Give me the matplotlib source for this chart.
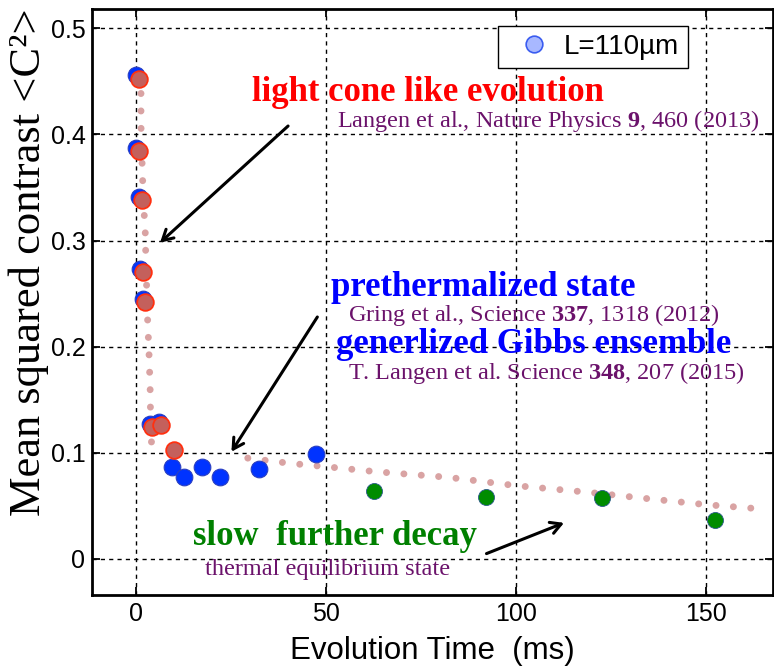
import numpy as np
import matplotlib.pyplot as plt
from matplotlib.lines import Line2D

plt.rcParams['font.family'] = 'Liberation Sans'
plt.rcParams['mathtext.fontset'] = 'custom'
plt.rcParams['mathtext.rm'] = 'Liberation Serif'
plt.rcParams['mathtext.bf'] = 'Liberation Serif:bold'

# L=110um measurements (ms, <C^2>)
blue_t = [0.1, 0.2, 0.8, 1.2, 1.8, 3.7, 6.2, 9.5, 12.7, 17.5, 22.3, 32.4, 47.5]
blue_c = [0.456, 0.387, 0.341, 0.273, 0.245, 0.127, 0.129, 0.087, 0.077, 0.087, 0.077, 0.085, 0.099]

# early-time points (light cone regime)
red_t = [0.9, 1.0, 1.6, 2.0, 2.5, 4.2, 6.6, 10.1]
red_c = [0.452, 0.384, 0.338, 0.270, 0.242, 0.124, 0.126, 0.103]

# late-time points (slow decay)
green_t = [62.6, 92.2, 122.6, 152.3]
green_c = [0.064, 0.058, 0.057, 0.037]

# model curves, early drop and late tail
fit_early_t = [1.0, 1.4, 1.4, 1.8, 2.2, 2.5, 2.7, 3.1, 3.5, 3.8, 4.0, 4.3]
fit_early_c = [0.455, 0.441, 0.409, 0.360, 0.327, 0.311, 0.279, 0.229, 0.195,
               0.162, 0.115, 0.106]
fit_late_t = [29.5, 31.6, 40.8, 49.8, 63.8, 82.0, 100.2, 118.5, 136.8, 150.5, 165.0]
fit_late_c = [0.095, 0.094, 0.090, 0.087, 0.082, 0.077, 0.069, 0.063, 0.056, 0.051, 0.047]

xticks = [0, 50, 100, 150]
yticks = [0, 0.1, 0.2, 0.3, 0.4, 0.5]

fig = plt.figure(figsize=(7.74, 6.68), dpi=100)
ax = fig.add_axes([0.1193, 0.1093, 0.879, 0.8768])

dots = dict(color='#d9a3a3', lw=5, linestyle=(0, (0.01, 2.5)),
            dash_capstyle='round', zorder=2)
ax.plot(fit_early_t, fit_early_c, **dots)
ax.plot(fit_late_t, fit_late_c, **dots)
ax.plot(blue_t, blue_c, 'o', ms=12, mfc='#0033ff', mec='#2a3fc0', mew=0.8, zorder=3)
ax.plot(green_t, green_c, 'o', ms=11.5, mfc='#008c00', mec='#2a5a8a', mew=0.6, zorder=3)
ax.plot(red_t, red_c, 'o', ms=12, mfc='#c4605c', mec='#ff3010', mew=1.3, zorder=4)

ax.set_xlim(-11.4, 167.6)
ax.set_ylim(-0.034, 0.518)
ax.set_xticks(xticks)
ax.set_yticks(yticks)
ax.set_xticklabels([str(v) for v in xticks])
ax.set_yticklabels(['0', '0.1', '0.2', '0.3', '0.4', '0.5'])
ax.tick_params(direction='in', length=6, width=1.3, labelsize=18, pad=5,
               top=True, right=True)
for s in ax.spines.values():
    s.set_linewidth(2)
ax.set_axisbelow(True)
ax.grid(True, color='black', lw=1.0, linestyle=(0, (3, 3)))

ax.set_xlabel('Evolution Time  (ms)', fontsize=22.5, labelpad=7)
ax.set_ylabel('Mean squared contrast <C²>', family='Liberation Serif',
              fontsize=32, va='center')
ax.yaxis.set_label_coords(-0.094, 0.569)

handle = Line2D([], [], marker='o', ls='', ms=12, mfc='#a8b8ff', mec='#3a5cf0', mew=1.2)
leg = ax.legend([handle], ['L=110µm'], loc='upper left', bbox_to_anchor=(0.5956, 0.972),
                borderaxespad=0, fontsize=20, fancybox=False, framealpha=1,
                edgecolor='black', handletextpad=0.1, borderpad=0.3, handlelength=2.0)
leg.get_frame().set_linewidth(1.0)

serif = 'Liberation Serif'
purple = '#6b126b'

ax.text(30.6, 0.432, 'light cone like evolution', color='#ff0000', family=serif,
        weight='bold', fontsize=25, va='baseline')
ax.text(53.0, 0.407, r'Langen et al., Nature Physics $\mathbf{9}$, 460 (2013)',
        color=purple, family=serif, fontsize=17.5, va='baseline')
ax.text(51.5, 0.248, 'prethermalized state', color='#0000ff', family=serif,
        weight='bold', fontsize=25, va='baseline')
ax.text(55.8, 0.2245, r'Gring et al., Science $\mathbf{337}$, 1318 (2012)',
        color=purple, family=serif, fontsize=17.5, va='baseline')
ax.text(52.8, 0.194, 'generlized Gibbs ensemble', color='#0000ff', family=serif,
        weight='bold', fontsize=25, va='baseline')
ax.text(55.8, 0.170, r'T. Langen et al. Science $\mathbf{348}$, 207 (2015)',
        color=purple, family=serif, fontsize=17.5, va='baseline')
ax.text(15.0, 0.013, 'slow  further decay', color='#008000', family=serif,
        weight='bold', fontsize=25, va='baseline')
ax.text(18.2, -0.015, 'thermal equilibrium state', color=purple, family=serif,
        fontsize=17.5, va='baseline')

arrow = dict(arrowstyle='->,head_length=0.75,head_width=0.42', color='black', lw=2.2,
             shrinkA=0, shrinkB=0)
ax.annotate('', xy=(6.4, 0.298), xytext=(40.1, 0.408), arrowprops=arrow, zorder=5)
ax.annotate('', xy=(25.2, 0.101), xytext=(47.8, 0.228), arrowprops=arrow, zorder=5)
ax.annotate('', xy=(112.7, 0.034), xytext=(92.3, 0.005), arrowprops=arrow, zorder=5)

fig.savefig('out.png', dpi=100)
